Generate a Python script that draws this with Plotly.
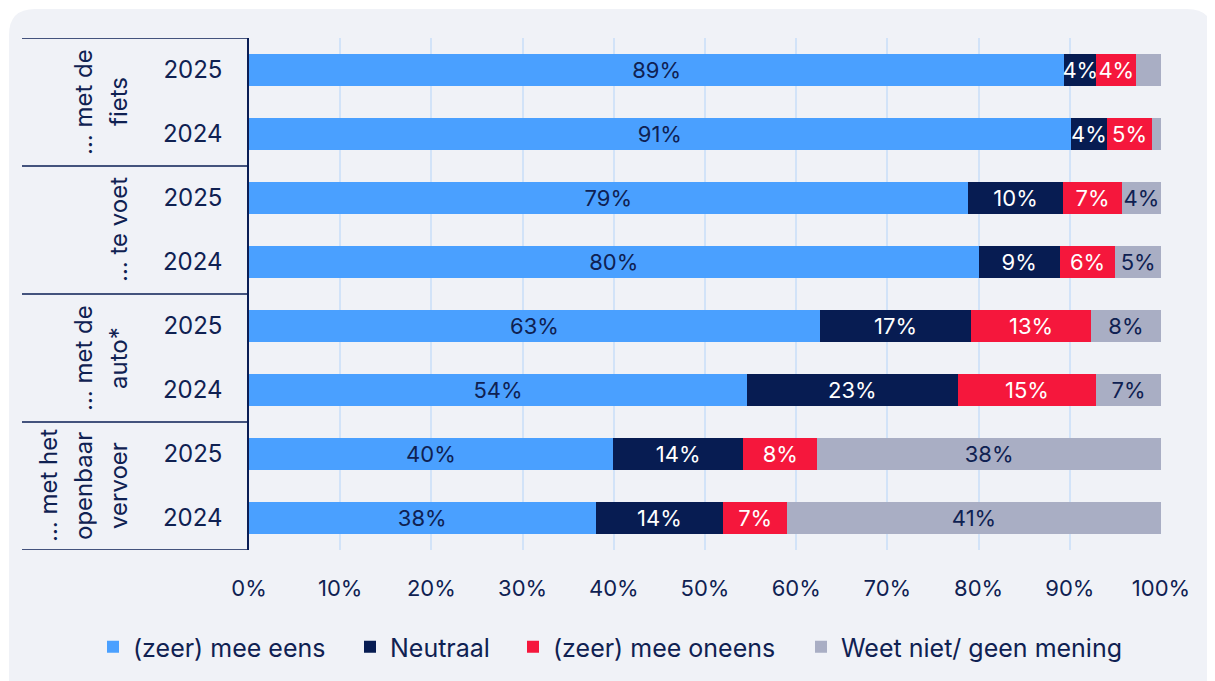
import plotly.graph_objects as go

# ---- data ----
groups = ["… met de<br>fiets", "… te voet", "… met de<br>auto*", "… met het<br>openbaar<br>vervoer"]
years = ["2025", "2024", "2025", "2024", "2025", "2024", "2025", "2024"]

series_names = ["(zeer) mee eens", "Neutraal", "(zeer) mee oneens", "Weet niet/ geen mening"]

agree = [89.4, 90.1, 78.8, 80.0, 62.6, 54.6, 39.9, 38.0]
neutral = [3.5, 4.0, 10.5, 8.9, 16.6, 23.1, 14.3, 14.0]
disagree = [4.4, 4.9, 6.4, 6.1, 13.1, 15.2, 8.1, 7.0]
dont_know = [2.7, 1.0, 4.3, 5.0, 7.7, 7.1, 37.7, 41.0]

agree_lbl = ["89%", "91%", "79%", "80%", "63%", "54%", "40%", "38%"]
neutral_lbl = ["4%", "4%", "10%", "9%", "17%", "23%", "14%", "14%"]
disagree_lbl = ["4%", "5%", "7%", "6%", "13%", "15%", "8%", "7%"]
dont_know_lbl = ["", "", "4%", "5%", "8%", "7%", "38%", "41%"]

x_ticks = [0, 10, 20, 30, 40, 50, 60, 70, 80, 90, 100]

# ---- style ----
NAVY = "#0b1e55"
TEXT = "#0f2152"
colors = ["#4aa0ff", "#071c52", "#f5173c", "#a9aec4"]
text_colors = [TEXT, "white", "white", TEXT]
legend_widths = [212, 118, 243, 300]  # px per legend entry, to space like the original
PANEL = "#f0f2f7"
GRID = "#d2e3f8"
FONT = "Inter"

# page has an 8px body margin, so work in screen pixels and shift
OFF = 8
SW, SH = 1215, 681
W, H = SW - OFF, SH - OFF
L, R, T, B = 249, 1161, 38, 550  # plot area in screen pixels


def px_x(x):
    return (x - L) / (R - L)


def px_y(y):
    return (B - y) / (B - T)


rows = list(range(len(years)))
values = [agree, neutral, disagree, dont_know]
labels = [agree_lbl, neutral_lbl, disagree_lbl, dont_know_lbl]

fig = go.Figure()
for name, vals, lbls, col, tcol, lw in zip(series_names, values, labels, colors, text_colors, legend_widths):
    fig.add_trace(
        go.Bar(
            y=rows,
            x=vals,
            orientation="h",
            name=name,
            marker=dict(color=col, line=dict(width=0)),
            text=lbls,
            textposition="inside",
            insidetextanchor="middle",
            textangle=0,
            constraintext="none",
            textfont=dict(color=tcol, size=22, family=FONT),
            width=0.49,
            legendwidth=lw,
            hovertemplate=name + ": %{x:.0f}%<extra></extra>",
        )
    )

# rounded background panel
x0, y0, x1, y1, r = 9, 9, 1213, 700, 26
path = (
    f"M {px_x(x0 + r)} {px_y(y0)} L {px_x(x1 - r)} {px_y(y0)} "
    f"Q {px_x(x1)} {px_y(y0)} {px_x(x1)} {px_y(y0 + r)} "
    f"L {px_x(x1)} {px_y(y1)} L {px_x(x0)} {px_y(y1)} "
    f"L {px_x(x0)} {px_y(y0 + r)} Q {px_x(x0)} {px_y(y0)} {px_x(x0 + r)} {px_y(y0)} Z"
)
shapes = [
    dict(type="path", path=path, xref="paper", yref="paper",
         fillcolor=PANEL, line=dict(width=0), layer="below")
]

# category table lines on the left
rows_per_group = len(years) // len(groups)
for g in range(len(groups) + 1):
    yb = g * rows_per_group - 0.5
    shapes.append(
        dict(type="line", xref="paper", yref="y", x0=px_x(22), x1=0, y0=yb, y1=yb,
             line=dict(color=NAVY, width=1.5))
    )

annotations = []
for g, label in enumerate(groups):
    lines = label.split("<br>")
    yc = g * rows_per_group + (rows_per_group - 1) / 2
    for i, line in enumerate(reversed(lines)):
        annotations.append(
            dict(text=line, xref="paper", yref="y", x=px_x(118 - 35 * i), y=yc,
                 textangle=-90, showarrow=False, xanchor="center", yanchor="middle",
                 font=dict(size=24, color=TEXT, family=FONT))
        )

fig.update_layout(
    barmode="stack",
    width=W,
    height=H,
    margin=dict(l=L - OFF, r=SW - R, t=T - OFF, b=SH - B, pad=0, autoexpand=False),
    paper_bgcolor="white",
    plot_bgcolor="rgba(0,0,0,0)",
    font=dict(family=FONT, color=TEXT, size=22),
    shapes=shapes,
    annotations=annotations,
    showlegend=True,
    legend=dict(
        orientation="h",
        x=px_x(93),
        y=px_y(647),
        xanchor="left",
        yanchor="middle",
        font=dict(size=25, color=TEXT, family=FONT),
        traceorder="normal",
        bgcolor="rgba(0,0,0,0)",
        itemclick=False,
    ),
    xaxis=dict(
        range=[0, 100],
        tickvals=x_ticks,
        ticktext=[f"{v}%" for v in x_ticks],
        showgrid=True,
        gridcolor=GRID,
        gridwidth=1.5,
        zeroline=False,
        showline=False,
        ticks="",
        ticklabelstandoff=23,
        tickfont=dict(size=22, color=TEXT),
        fixedrange=True,
    ),
    yaxis=dict(
        range=[len(years) - 0.5, -0.5],
        tickvals=rows,
        ticktext=years,
        showgrid=False,
        zeroline=False,
        showline=True,
        linecolor=NAVY,
        linewidth=1.5,
        ticks="",
        ticklabelstandoff=20,
        tickfont=dict(size=24, color=TEXT),
        fixedrange=True,
    ),
)

fig.write_html("out.html")
